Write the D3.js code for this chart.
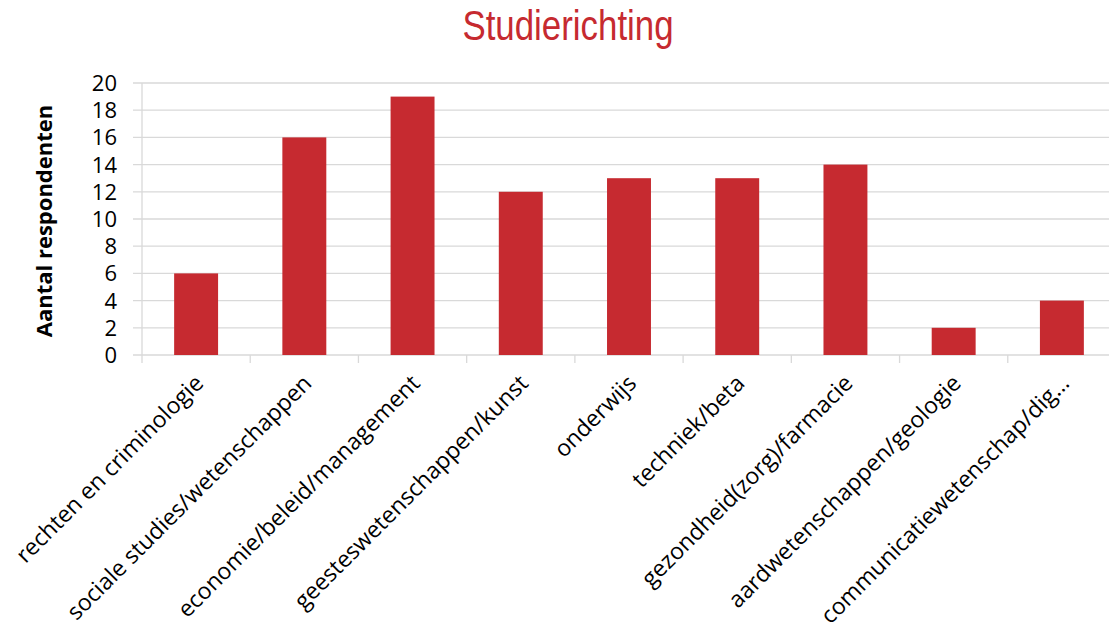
<!DOCTYPE html>
<html><head><meta charset="utf-8">
<script src="https://cdn.jsdelivr.net/npm/d3@7"></script>
<style>body{margin:0;background:#fff;overflow:hidden}</style>
</head><body>
<svg id="c" width="1109" height="632"></svg>
<script>
const categories = ["rechten en criminologie","sociale studies/wetenschappen","economie/beleid/management","geesteswetenschappen/kunst","onderwijs","techniek/beta","gezondheid(zorg)/farmacie","aardwetenschappen/geologie","communicatiewetenschap/dig…"];
const values = [6,16,19,12,13,13,14,2,4];
const yTicks = [0,2,4,6,8,10,12,14,16,18,20];
const title = "Studierichting";
const yTitle = "Aantal respondenten";

const svg = d3.select("#c");
const x = d3.scaleBand().domain(categories).range([142,1116]).paddingInner(0.594).paddingOuter(0.297);
const y = d3.scaleLinear().domain([0,20]).range([355,83]);
const font = "'Open Sans', Lato, sans-serif";

svg.append("g").selectAll("line").data(yTicks).join("line")
  .attr("x1",133).attr("x2",1109).attr("y1",d=>y(d)).attr("y2",d=>y(d))
  .attr("stroke","#d9d9d9").attr("stroke-width",1.3);
svg.append("line").attr("x1",142).attr("x2",142).attr("y1",y(20)).attr("y2",y(0)).attr("stroke","#d9d9d9").attr("stroke-width",1.3);
const bounds = d3.range(categories.length+1).map(i=>142 + i*x.step());
svg.append("g").selectAll("line").data(bounds).join("line")
  .attr("x1",d=>d).attr("x2",d=>d).attr("y1",y(0)).attr("y2",y(0)+8)
  .attr("stroke","#d9d9d9").attr("stroke-width",1.3);

svg.append("g").selectAll("rect").data(values).join("rect")
  .attr("x",(d,i)=>x(categories[i])).attr("width",x.bandwidth())
  .attr("y",d=>y(d)).attr("height",d=>y(0)-y(d))
  .attr("fill","#c62a30");

svg.append("g").selectAll("text").data(yTicks).join("text")
  .attr("x",117).attr("y",d=>y(d)).attr("dy","0.36em")
  .attr("text-anchor","end").attr("font-family",font).attr("font-size",22).attr("fill","#000")
  .text(d=>d);

svg.append("g").selectAll("text").data(categories).join("text")
  .attr("transform",d=>`translate(${x(d)+x.bandwidth()/2-3},${373}) rotate(-45)`)
  .attr("text-anchor","end").attr("dy","0.72em")
  .attr("font-family",font).attr("font-size",23).attr("fill","#000")
  .text(d=>d);

svg.append("text").attr("transform","translate(568,40) scale(0.83,1)").attr("text-anchor","middle")
  .attr("font-family","'Liberation Sans Narrow', 'Arial Narrow', sans-serif").attr("font-size",42).attr("fill","#c62a30")
  .text(title);

svg.append("text").attr("transform","translate(52,221) rotate(-90)").attr("text-anchor","middle")
  .attr("font-family",font).attr("font-weight","bold").attr("font-size",22).attr("fill","#000")
  .text(yTitle);
</script>
</body></html>
